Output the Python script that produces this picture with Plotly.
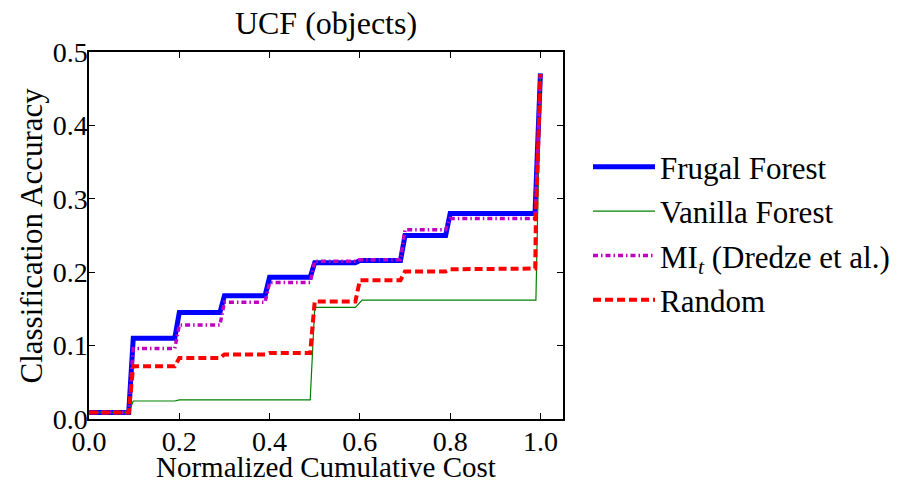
import plotly.graph_objects as go

# Data
frugal_x = [0, 0.088, 0.098, 0.19, 0.2, 0.29, 0.3, 0.39, 0.4, 0.49, 0.5, 0.59, 0.6, 0.69, 0.7, 0.79, 0.8, 0.988, 1.0]
frugal_y = [0.009, 0.009, 0.11, 0.11, 0.145, 0.145, 0.168, 0.168, 0.193, 0.193, 0.213, 0.213, 0.216, 0.216, 0.25, 0.25, 0.28, 0.28, 0.471]

vanilla_x = [0, 0.088, 0.098, 0.19, 0.2, 0.49, 0.5, 0.59, 0.605, 0.99, 1.0]
vanilla_y = [0.009, 0.009, 0.0245, 0.0245, 0.026, 0.026, 0.152, 0.152, 0.162, 0.162, 0.47]

mi_x = [0, 0.088, 0.098, 0.19, 0.2, 0.29, 0.3, 0.39, 0.4, 0.49, 0.5, 0.59, 0.6, 0.69, 0.7, 0.79, 0.8, 0.988, 1.0]
mi_y = [0.009, 0.009, 0.096, 0.096, 0.128, 0.128, 0.159, 0.159, 0.186, 0.186, 0.215, 0.215, 0.217, 0.217, 0.258, 0.258, 0.273, 0.273, 0.47]

random_x = [0, 0.088, 0.098, 0.19, 0.2, 0.29, 0.3, 0.39, 0.4, 0.49, 0.5, 0.59, 0.6, 0.69, 0.7, 0.79, 0.8, 0.9885, 0.99, 1.0]
random_y = [0.009, 0.009, 0.072, 0.072, 0.083, 0.083, 0.088, 0.088, 0.09, 0.09, 0.16, 0.16, 0.189, 0.189, 0.201, 0.201, 0.204, 0.205, 0.275, 0.47]

series_names = ["Frugal Forest", "Vanilla Forest", "MI<sub><i>t</i></sub> (Dredze et al.)", "Random"]

x_ticks = [0.0, 0.2, 0.4, 0.6, 0.8, 1.0]
y_ticks = [0.0, 0.1, 0.2, 0.3, 0.4, 0.5]

x_title = "Normalized Cumulative Cost"
y_title = "Classification Accuracy"
chart_title = "UCF (objects)"

FONT = "Liberation Serif, serif"

fig = go.Figure()
styles = [
    dict(color="#0000ff", width=5, dash="solid"),
    dict(color="#008000", width=1.2, dash="solid"),
    dict(color="#bf00bf", width=3.5, dash="5px,3px,1.5px,3px"),
    dict(color="#ff0000", width=4, dash="8px,4px"),
]
data = [(frugal_x, frugal_y), (vanilla_x, vanilla_y), (mi_x, mi_y), (random_x, random_y)]
for i, ((xs, ys), name, st) in enumerate(zip(data, series_names, styles)):
    fig.add_trace(go.Scatter(x=xs, y=ys, mode="lines", name=name, line=st,
                             legendgroup=f"g{i}"))

axis_common = dict(
    showline=True, linecolor="black", linewidth=1.5, mirror="ticks",
    ticks="inside", ticklen=6, tickwidth=1, tickcolor="black",
    showgrid=False, zeroline=False, automargin=False,
    tickfont=dict(family=FONT, size=28, color="black"),
)

fig.update_layout(
    width=909, height=482,
    font=dict(family=FONT, size=28, color="black"),
    margin=dict(l=89, r=346, t=52, b=63, autoexpand=False),
    plot_bgcolor="white", paper_bgcolor="white",
    title=dict(text=chart_title, x=0.5, xref="paper", xanchor="center",
               y=1 - 23 / 482, yref="container", yanchor="middle",
               font=dict(family=FONT, size=32, color="black")),
    xaxis=dict(range=[0, 1.05], tickvals=x_ticks, ticktext=[f"{v:.1f}" for v in x_ticks],
               ticklabelstandoff=-3,
               **axis_common),
    yaxis=dict(range=[0, 0.5], tickvals=y_ticks, ticktext=[f"{v:.1f}" for v in y_ticks],
               ticklabelstandoff=-6,
               **axis_common),
    legend=dict(x=(588 - 89) / 474, y=0.505, xanchor="left", yanchor="middle",
                font=dict(family=FONT, size=31, color="black"),
                itemwidth=62,
                tracegroupgap=1, bgcolor="rgba(0,0,0,0)"),
    showlegend=True,
)

fig.add_annotation(text=x_title, xref="paper", yref="paper", x=0.5, y=(419 - 467) / 367,
                   xanchor="center", yanchor="middle", showarrow=False,
                   font=dict(family=FONT, size=29, color="black"))
fig.add_annotation(text=y_title, xref="paper", yref="paper", x=(31 - 89) / 474, y=0.5,
                   xanchor="center", yanchor="middle", textangle=-90, showarrow=False,
                   font=dict(family=FONT, size=31, color="black"))

fig.write_html("out.html")
